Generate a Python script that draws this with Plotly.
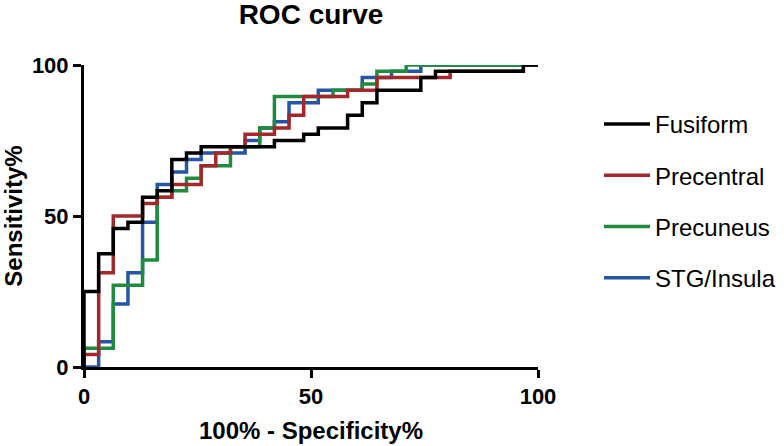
import plotly.graph_objects as go

# 100% - Specificity% (x) and Sensitivity% (y) at each step of the ROC curves
fusiform_fpr = [0, 0, 3.23, 6.45, 9.68, 12.90, 16.13, 19.35, 22.58, 25.81, 41.94, 48.39, 51.61, 58.06, 61.29, 64.52, 74.19, 77.42, 96.77, 100]
fusiform_tpr = [0, 25.00, 37.50, 45.83, 47.92, 56.25, 58.33, 68.75, 70.83, 72.92, 75.00, 77.08, 79.17, 83.33, 87.50, 91.67, 95.83, 97.92, 100, 100]

precentral_fpr = [0, 0, 3.23, 6.45, 12.90, 16.13, 19.35, 25.81, 29.03, 32.26, 35.48, 41.94, 45.16, 48.39, 58.06, 64.52, 80.65, 96.77, 100]
precentral_tpr = [0, 4.17, 31.25, 50.00, 54.17, 56.25, 60.42, 66.67, 70.83, 72.92, 77.08, 79.17, 83.33, 89.58, 91.67, 95.83, 97.92, 100, 100]

precuneus_fpr = [0, 0, 6.45, 12.90, 16.13, 19.35, 22.58, 25.81, 32.26, 38.71, 41.94, 54.84, 61.29, 64.52, 70.97, 100]
precuneus_tpr = [0, 6.25, 27.08, 35.42, 56.25, 58.33, 62.50, 66.67, 72.92, 79.17, 89.58, 91.67, 93.75, 97.92, 100, 100]

stg_fpr = [0, 3.23, 6.45, 9.68, 12.90, 16.13, 19.35, 22.58, 25.81, 35.48, 38.71, 41.94, 45.16, 51.61, 61.29, 67.74, 74.19, 100]
stg_tpr = [0, 8.33, 20.83, 31.25, 47.92, 60.42, 64.58, 68.75, 70.83, 75.00, 79.17, 81.25, 87.50, 91.67, 95.83, 97.92, 100, 100]

x_ticks = [0, 50, 100]
y_ticks = [0, 50, 100]

FONT = "Liberation Sans, Arial, Helvetica, sans-serif"

# drawn bottom to top: blue, green, red, black
series = [
    ("STG/Insula", stg_fpr, stg_tpr, "#2555a5", 4),
    ("Precuneus", precuneus_fpr, precuneus_tpr, "#1f8b3e", 3),
    ("Precentral", precentral_fpr, precentral_tpr, "#a3282b", 2),
    ("Fusiform", fusiform_fpr, fusiform_tpr, "#000000", 1),
]

fig = go.Figure()
for name, xs, ys, color, rank in series:
    fig.add_trace(go.Scatter(
        x=xs, y=ys, mode="lines", name=name,
        line=dict(color=color, width=3.5, shape="hv"),
        legendgroup=name, legendrank=rank,
    ))

axis_common = dict(
    showline=True, linewidth=3, linecolor="black",
    ticks="outside", ticklen=8, tickwidth=3, tickcolor="black",
    showgrid=False, zeroline=False, automargin=False,
    tickfont=dict(family=FONT, size=22, color="black", weight="bold"),
)

fig.update_layout(
    width=784, height=446,
    paper_bgcolor="white", plot_bgcolor="white",
    margin=dict(l=84, r=246, t=65, b=79, autoexpand=False),
    title=dict(text="ROC curve", x=0.5, xref="paper", xanchor="center",
               y=1 - 14 / 446, yref="container", yanchor="middle",
               font=dict(family=FONT, size=28, color="black", weight="bold")),
    xaxis=dict(range=[0, 100], tickvals=x_ticks, ticktext=[str(v) for v in x_ticks],
               title=dict(text="100% - Specificity%", standoff=14,
                          font=dict(family=FONT, size=24, color="black", weight="bold")),
               **axis_common),
    yaxis=dict(range=[0, 100], tickvals=y_ticks, ticktext=[str(v) for v in y_ticks],
               title=dict(text="Sensitivity%", standoff=10,
                          font=dict(family=FONT, size=24, color="black", weight="bold")),
               **axis_common),
    legend=dict(
        x=599 / 784, xref="container", xanchor="left",
        y=1 - 102 / 446, yref="container", yanchor="top",
        traceorder="grouped", tracegroupgap=17, itemwidth=46,
        font=dict(family=FONT, size=24, color="black"),
        bgcolor="rgba(0,0,0,0)",
    ),
    showlegend=True,
)

fig.write_html(
    "out.html",
    config={"displayModeBar": False},
    post_script="document.body.style.margin='0';document.body.style.overflow='hidden';",
)
